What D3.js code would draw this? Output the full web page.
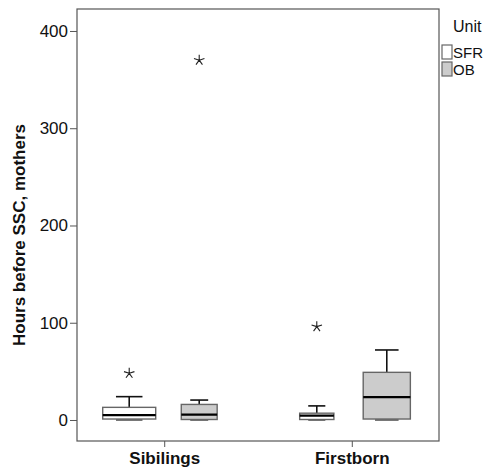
<!DOCTYPE html>
<html>
<head>
<meta charset="utf-8">
<script src="https://cdn.jsdelivr.net/npm/d3@7"></script>
<style>
  body { margin: 0; background: #fff; }
  text { font-family: "Liberation Sans", Arial, sans-serif; }
</style>
</head>
<body>
<svg id="chart"></svg>
<script>
// groups on the x axis and units in the legend
const groups = ["Sibilings", "Firstborn"];
const units = ["SFR", "OB"];
const unitFill = { SFR: "#ffffff", OB: "#cccccc" };

// box statistics, one row per group x unit
const boxGroup = ["Sibilings", "Sibilings", "Firstborn", "Firstborn"];
const boxUnit  = ["SFR", "OB", "SFR", "OB"];
const whiskLo  = [0, 0, 0, 0];
const q1       = [1, 0.5, 0.5, 1];
const median   = [5, 5.5, 4.5, 23.5];
const q3       = [13, 16, 7, 49];
const whiskHi  = [24, 20.5, 14.5, 72];
const counts   = [24, 11, 10, 19];  // box width follows sample size
const outliers = [[48], [370], [96], []];

const yTicks = [0, 100, 200, 300, 400];

const width = 500, height = 472;
const plot = { left: 77, right: 439, top: 9, bottom: 441 };

const svg = d3.select("#chart").attr("width", width).attr("height", height);

const y = d3.scaleLinear().domain([-21.6, 422.6]).range([plot.bottom, plot.top]);
const x = d3.scalePoint().domain(groups).range([plot.left, plot.right]).padding(0.465);
const xUnit = d3.scalePoint().domain(units).range([-35, 35]);
const w = d3.scaleSqrt().domain([0, d3.max(counts)]).range([0, 53]);

const boxes = boxGroup.map((g, i) => ({
  group: g, unit: boxUnit[i], lo: whiskLo[i], q1: q1[i], med: median[i],
  q3: q3[i], hi: whiskHi[i], n: counts[i], out: outliers[i]
}));

// frame
svg.append("rect")
  .attr("x", plot.left).attr("y", plot.top)
  .attr("width", plot.right - plot.left).attr("height", plot.bottom - plot.top)
  .attr("fill", "none").attr("stroke", "#555").attr("stroke-width", 1.2);

// y axis
const yAxis = svg.append("g")
  .attr("transform", `translate(${plot.left},0)`)
  .call(d3.axisLeft(y).tickValues(yTicks).tickSize(7).tickPadding(2));
yAxis.select(".domain").remove();
yAxis.selectAll("line").attr("stroke", "#555");
yAxis.selectAll("text").attr("font-size", 17).attr("fill", "#111")
  .style("font-family", "Liberation Sans, Arial, sans-serif");

// x axis
const xAxis = svg.append("g")
  .attr("transform", `translate(0,${plot.bottom})`)
  .call(d3.axisBottom(x).tickSize(6).tickPadding(5));
xAxis.select(".domain").remove();
xAxis.selectAll("line").attr("stroke", "#555");
xAxis.selectAll("text").attr("font-size", 17).attr("font-weight", "bold").attr("fill", "#111")
  .style("font-family", "Liberation Sans, Arial, sans-serif");

// y title
svg.append("text")
  .attr("transform", `translate(25,${(plot.top + plot.bottom) / 2 + 10}) rotate(-90)`)
  .attr("text-anchor", "middle")
  .attr("font-size", 17).attr("font-weight", "bold").attr("fill", "#111")
  .text("Hours before SSC, mothers");

// boxes
const bx = svg.append("g").selectAll("g").data(boxes).enter().append("g")
  .attr("transform", d => `translate(${x(d.group) + xUnit(d.unit)},0)`);

// whiskers
bx.append("line")
  .attr("x1", 0).attr("x2", 0)
  .attr("y1", d => y(d.q3)).attr("y2", d => y(d.hi))
  .attr("stroke", "#111").attr("stroke-width", 1.6);
bx.append("line")
  .attr("x1", d => -w(d.n) / 4).attr("x2", d => w(d.n) / 4)
  .attr("y1", d => y(d.hi)).attr("y2", d => y(d.hi))
  .attr("stroke", "#111").attr("stroke-width", 1.6);
bx.append("line")
  .attr("x1", d => -w(d.n) / 4).attr("x2", d => w(d.n) / 4)
  .attr("y1", d => y(d.lo)).attr("y2", d => y(d.lo))
  .attr("stroke", "#555").attr("stroke-width", 1.6);

bx.append("rect")
  .attr("x", d => -w(d.n) / 2).attr("width", d => w(d.n))
  .attr("y", d => y(d.q3)).attr("height", d => y(d.q1) - y(d.q3))
  .attr("fill", d => unitFill[d.unit])
  .attr("stroke", "#666").attr("stroke-width", 1.4);

bx.append("line")
  .attr("x1", d => -w(d.n) / 2).attr("x2", d => w(d.n) / 2)
  .attr("y1", d => y(d.med)).attr("y2", d => y(d.med))
  .attr("stroke", "#000").attr("stroke-width", 2.4);

// extreme outliers as stars
const star = d3.range(5).map(k => {
  const a = -Math.PI / 2 + k * 2 * Math.PI / 5;
  return `M0,0L${(5.5 * Math.cos(a)).toFixed(2)},${(5.5 * Math.sin(a)).toFixed(2)}`;
}).join("");
bx.selectAll("path.star").data(d => d.out).enter().append("path")
  .attr("class", "star")
  .attr("transform", v => `translate(0,${y(v)})`)
  .attr("d", star)
  .attr("fill", "none").attr("stroke", "#222").attr("stroke-width", 1.1);

// legend
const lg = svg.append("g").attr("transform", "translate(442,0)");
lg.append("text").attr("x", 11).attr("y", 32)
  .attr("font-size", 16).attr("fill", "#111").text("Unit");
const li = lg.selectAll("g.item").data(units).enter().append("g")
  .attr("transform", (d, i) => `translate(0,${45 + i * 17})`);
li.append("rect").attr("width", 10).attr("height", 14)
  .attr("fill", d => unitFill[d]).attr("stroke", "#666").attr("stroke-width", 1.2);
li.append("text").attr("x", 11).attr("y", 13)
  .attr("font-size", 15).attr("fill", "#111").text(d => d);
</script>
</body>
</html>
